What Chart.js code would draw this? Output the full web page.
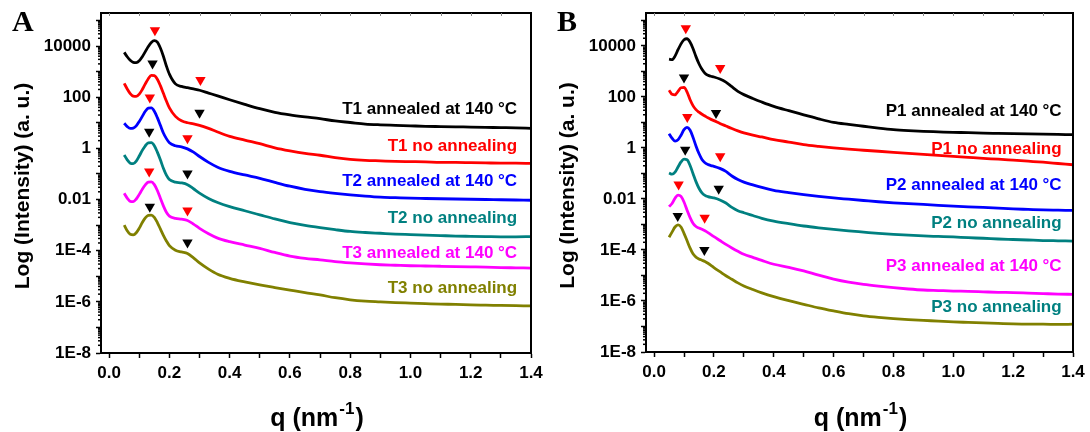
<!DOCTYPE html>
<html><head><meta charset="utf-8">
<script src="https://cdn.jsdelivr.net/npm/chart.js@4.4.0/dist/chart.umd.min.js"></script>
<style>
html,body{margin:0;padding:0;background:#fff;}
#wrap{position:relative;width:1090px;height:432px;}
canvas{position:absolute;top:0;}
</style></head>
<body><div id="wrap"><canvas id="cA" width="545" height="432" style="left:0"></canvas><canvas id="cB" width="545" height="432" style="left:545px"></canvas></div>
<script>
// q grid (nm^-1)
const q = [0.05,0.06,0.07,0.08,0.09,0.10,0.11,0.12,0.13,0.14,0.15,0.16,0.17,0.18,0.19,0.20,
  0.22,0.24,0.26,0.28,0.30,0.33,0.36,0.40,0.45,0.50,0.55,0.60,0.65,0.70,0.75,0.80,0.85,0.90,
  0.95,1.00,1.05,1.10,1.15,1.20,1.25,1.30,1.35,1.40];

// Panel A, log10(intensity)
const T1_annealed = [3.75,3.58,3.44,3.36,3.35,3.42,3.58,3.78,3.98,4.14,4.21,4.15,3.92,3.6,3.22,2.9,
  2.52,2.42,2.37,2.32,2.27,2.16,2.05,1.9,1.72,1.55,1.41,1.31,1.23,1.16,1.07,1.01,0.95,0.92,
  0.9,0.88,0.86,0.85,0.84,0.83,0.82,0.81,0.8,0.78];
const T1_none = [2.54,2.32,2.14,2.04,2.03,2.12,2.3,2.52,2.72,2.85,2.84,2.7,2.45,2.15,1.85,1.58,
  1.25,1.08,1.0,0.96,0.9,0.78,0.64,0.47,0.32,0.18,0.02,-0.1,-0.2,-0.27,-0.36,-0.43,-0.47,-0.49,
  -0.51,-0.52,-0.53,-0.55,-0.55,-0.56,-0.57,-0.58,-0.58,-0.59];
const T2_annealed = [0.98,0.85,0.78,0.79,0.88,1.05,1.25,1.45,1.57,1.58,1.45,1.2,0.9,0.6,0.38,0.22,
  0.1,0.06,-0.02,-0.15,-0.32,-0.55,-0.74,-0.9,-1.04,-1.17,-1.33,-1.48,-1.6,-1.69,-1.76,-1.82,-1.87,-1.91,
  -1.93,-1.95,-1.96,-1.97,-1.98,-1.99,-2.0,-2.01,-2.02,-2.03];
const T2_none = [-0.26,-0.45,-0.58,-0.6,-0.5,-0.3,-0.08,0.1,0.21,0.22,0.1,-0.15,-0.45,-0.78,-1.05,-1.22,
  -1.32,-1.35,-1.42,-1.58,-1.75,-1.96,-2.12,-2.28,-2.44,-2.6,-2.76,-2.9,-3.01,-3.1,-3.18,-3.25,-3.29,-3.32,
  -3.35,-3.37,-3.39,-3.41,-3.43,-3.44,-3.45,-3.46,-3.46,-3.45];
const T3_annealed = [-1.76,-1.95,-2.07,-2.08,-1.98,-1.8,-1.6,-1.43,-1.32,-1.31,-1.42,-1.65,-1.95,-2.25,-2.5,-2.65,
  -2.74,-2.77,-2.82,-2.96,-3.13,-3.34,-3.51,-3.65,-3.78,-3.91,-4.07,-4.21,-4.3,-4.36,-4.43,-4.48,-4.52,-4.55,
  -4.57,-4.59,-4.6,-4.61,-4.62,-4.63,-4.64,-4.66,-4.67,-4.68];
const T3_none = [-3.0,-3.22,-3.36,-3.38,-3.3,-3.12,-2.9,-2.72,-2.62,-2.61,-2.7,-2.9,-3.15,-3.4,-3.62,-3.8,
  -3.98,-4.05,-4.11,-4.28,-4.48,-4.72,-4.92,-5.08,-5.22,-5.34,-5.44,-5.54,-5.64,-5.73,-5.84,-5.92,-5.97,-6.0,
  -6.03,-6.05,-6.07,-6.09,-6.1,-6.12,-6.13,-6.14,-6.15,-6.16];

// Panel B, log10(intensity)
const P1_annealed = [3.48,3.46,3.6,3.85,4.08,4.24,4.28,4.15,3.9,3.58,3.3,3.08,2.93,2.85,2.81,2.78,
  2.7,2.58,2.4,2.22,2.09,1.94,1.8,1.63,1.46,1.3,1.14,1.0,0.92,0.85,0.78,0.72,0.68,0.65,
  0.63,0.61,0.6,0.58,0.57,0.56,0.55,0.54,0.53,0.52];
const P1_none = [2.26,2.1,2.08,2.22,2.36,2.37,2.2,1.9,1.66,1.5,1.4,1.32,1.25,1.18,1.12,1.07,
  0.96,0.86,0.76,0.67,0.59,0.5,0.43,0.33,0.23,0.13,0.06,0.0,-0.05,-0.09,-0.13,-0.17,-0.21,-0.25,
  -0.29,-0.33,-0.37,-0.41,-0.44,-0.48,-0.52,-0.56,-0.61,-0.66];
const P2_annealed = [0.56,0.38,0.27,0.32,0.5,0.72,0.81,0.7,0.42,0.08,-0.22,-0.45,-0.58,-0.65,-0.69,-0.72,
  -0.8,-0.92,-1.1,-1.24,-1.34,-1.45,-1.55,-1.66,-1.75,-1.83,-1.9,-1.96,-2.01,-2.06,-2.11,-2.15,-2.18,-2.21,
  -2.25,-2.28,-2.31,-2.33,-2.36,-2.39,-2.41,-2.43,-2.44,-2.45];
const P2_none = [-0.98,-1.03,-0.95,-0.75,-0.55,-0.44,-0.46,-0.68,-1.0,-1.32,-1.58,-1.76,-1.86,-1.91,-1.94,-1.96,
  -2.04,-2.16,-2.33,-2.46,-2.54,-2.65,-2.76,-2.87,-2.97,-3.06,-3.13,-3.19,-3.25,-3.3,-3.35,-3.39,-3.42,-3.45,
  -3.47,-3.49,-3.52,-3.54,-3.57,-3.59,-3.61,-3.63,-3.64,-3.65];
const P3_annealed = [-2.3,-2.18,-1.97,-1.85,-1.9,-2.12,-2.43,-2.72,-2.95,-3.08,-3.14,-3.19,-3.25,-3.32,-3.4,-3.48,
  -3.63,-3.78,-3.92,-4.05,-4.17,-4.29,-4.41,-4.56,-4.68,-4.82,-4.99,-5.14,-5.26,-5.35,-5.42,-5.48,-5.53,-5.57,
  -5.59,-5.61,-5.62,-5.64,-5.66,-5.67,-5.69,-5.71,-5.73,-5.74];
const P3_none = [-3.5,-3.3,-3.1,-3.02,-3.1,-3.35,-3.63,-3.92,-4.15,-4.28,-4.35,-4.4,-4.45,-4.52,-4.6,-4.69,
  -4.85,-5.01,-5.15,-5.29,-5.41,-5.55,-5.68,-5.83,-5.99,-6.13,-6.27,-6.39,-6.5,-6.58,-6.64,-6.69,-6.73,-6.76,
  -6.79,-6.82,-6.84,-6.86,-6.88,-6.9,-6.91,-6.91,-6.92,-6.91];

// Series names and colours
const namesA = ["T1 annealed at 140 °C","T1 no annealing","T2 annealed at 140 °C","T2 no annealing","T3 annealed at 140 °C","T3 no annealing"];
const namesB = ["P1 annealed at 140 °C","P1 no annealing","P2 annealed at 140 °C","P2 no annealing","P3 annealed at 140 °C","P3 no annealing"];
const lineColors = ["#000000","#ff0000","#0000ff","#008080","#ff00ff","#808000"];
const labelColorsA = ["#000000","#ff0000","#0000ff","#008080","#ff00ff","#808000"];
const labelColorsB = ["#000000","#ff0000","#0000ff","#008080","#ff00ff","#008080"];
// label anchor (q of right edge, log10 y of text centre)
const labelQA = 1.354, labelYA = [1.54,0.09,-1.28,-2.72,-4.09,-5.46];
const labelQB = 1.362, labelYB = [1.42,-0.07,-1.47,-2.95,-4.65,-6.25];

// Peak markers (q, log10 y)
const redMarkA = [[0.152,4.62],[0.303,2.67],[0.135,1.99],[0.26,0.39],[0.133,-0.91],[0.26,-2.43]];
const blackMarkA = [[0.144,3.32],[0.30,1.39],[0.133,0.65],[0.26,-0.98],[0.135,-2.28],[0.26,-3.68]];
const redMarkB = [[0.106,4.69],[0.221,3.13],[0.111,1.21],[0.221,-0.33],[0.082,-1.43],[0.169,-2.74]];
const blackMarkB = [[0.10,2.76],[0.207,1.37],[0.104,-0.07],[0.216,-1.6],[0.079,-2.67],[0.168,-4.0]];

// Axis ticks
const xTicks = [0,0.1,0.2,0.3,0.4,0.5,0.6,0.7,0.8,0.9,1.0,1.1,1.2,1.3,1.4];
const xTickLabels = ["0.0","0.2","0.4","0.6","0.8","1.0","1.2","1.4"];
const yTicks = [-8,-7,-6,-5,-4,-3,-2,-1,0,1,2,3,4,5];
const yTickLabels = {"-8":"1E-8","-6":"1E-6","-4":"1E-4","-2":"0.01","0":"1","2":"100","4":"10000"};

const FONT = "'Liberation Sans', Arial, Helvetica, sans-serif";

function makeChart(id, letter, series, names, labelColors, labelQ, labelY, redM, blackM, pad){
  const datasets = series.map((s,i)=>({
    data: q.map((x,j)=>({x:x,y:s[j]})),
    borderColor: lineColors[i], borderWidth: 2.8, pointRadius: 0,
    cubicInterpolationMode: 'monotone', fill:false
  }));
  datasets.push({data: redM.map(p=>({x:p[0],y:p[1]})), showLine:false, pointStyle:'triangle',
    pointRotation:180, pointRadius:6, pointBackgroundColor:'#ff0000', pointBorderColor:'#ff0000', pointBorderWidth:0});
  datasets.push({data: blackM.map(p=>({x:p[0],y:p[1]})), showLine:false, pointStyle:'triangle',
    pointRotation:180, pointRadius:6, pointBackgroundColor:'#000000', pointBorderColor:'#000000', pointBorderWidth:0});

  const deco = {
    id:'deco',
    afterDraw(chart){
      const ctx = chart.ctx, a = chart.chartArea, xs = chart.scales.x, ys = chart.scales.y;
      ctx.save();
      // frame top/right
      ctx.strokeStyle='#000'; ctx.lineWidth=2;
      ctx.beginPath(); ctx.moveTo(a.left-1,a.top); ctx.lineTo(a.right,a.top); ctx.lineTo(a.right,a.bottom+1); ctx.stroke();
      // top inward ticks
      ctx.lineWidth=1; ctx.strokeStyle='#888';
      xTicks.forEach(v=>{ const px=Math.round(xs.getPixelForValue(v))+0.5; if(px>a.left+2 && px<a.right-2){ctx.beginPath();ctx.moveTo(px,a.top);ctx.lineTo(px,a.top+3);ctx.stroke();}});
      // minor log ticks on y
      ctx.strokeStyle='#000'; ctx.lineWidth=1.5;
      yTicks.forEach(k=>{ for(let m=2;m<=9;m++){ const v=k+Math.log10(m); if(v>ys.max) continue;
        const py=ys.getPixelForValue(v); ctx.beginPath(); ctx.moveTo(a.left-3,py); ctx.lineTo(a.left,py); ctx.stroke(); }});
      // curve labels
      ctx.font = "bold 17px "+FONT; ctx.textAlign='right'; ctx.textBaseline='middle';
      names.forEach((n,i)=>{ ctx.fillStyle=labelColors[i];
        ctx.fillText(n, xs.getPixelForValue(labelQ), ys.getPixelForValue(labelY[i])); });
      // panel letter
      ctx.fillStyle='#000'; ctx.font="bold 30px 'Liberation Serif', 'Times New Roman', serif";
      ctx.textAlign='left'; ctx.textBaseline='alphabetic';
      ctx.fillText(letter, 12, 31);
      // x title with superscript
      const cx=(a.left+a.right)/2, by=426;
      const f1="bold 25px "+FONT, f2="bold 17px "+FONT;
      ctx.font=f1; const w1=ctx.measureText("q (nm").width, w3=ctx.measureText(")").width;
      ctx.font=f2; const w2=ctx.measureText("-1").width;
      let x0=cx-(w1+w2+w3)/2;
      ctx.font=f1; ctx.fillText("q (nm", x0, by);
      ctx.font=f2; ctx.fillText("-1", x0+w1+1, by-12);
      ctx.font=f1; ctx.fillText(")", x0+w1+w2+2, by);
      // y title
      ctx.save(); ctx.translate(23, (a.top+a.bottom)/2+3); ctx.rotate(-Math.PI/2);
      ctx.font="bold 21px "+FONT; ctx.textAlign='center'; ctx.textBaseline='middle';
      ctx.fillText("Log (Intensity) (a. u.)",0,0); ctx.restore();
      ctx.restore();
    }
  };

  return new Chart(document.getElementById(id), {
    type:'line',
    data:{datasets},
    options:{
      responsive:false, animation:false, events:[],
      layout:{padding:{left:0,right:pad.right,top:13,bottom:0}},
      plugins:{legend:{display:false}, tooltip:{enabled:false}},
      scales:{
        x:{type:'linear', min:-0.027, max:1.4,
          afterBuildTicks:s=>{s.ticks = xTicks.map(v=>({value:v}));},
          afterFit:s=>{s.height = 432-pad.bottom; s.paddingLeft=0; s.paddingRight=0;},
          ticks:{autoSkip:false, maxRotation:0, padding:5, color:'#000',
            font:{family:FONT,size:17,weight:'bold'},
            callback:(v)=>{const k=Math.round(v*10); return k%2===0 ? xTickLabels[k/2] : '';}},
          grid:{drawOnChartArea:false, drawTicks:true, tickLength:5, tickColor:'#000', tickWidth:1.5},
          border:{display:true, width:2, color:'#000'}
        },
        y:{type:'linear', min:-8, max:5.29,
          afterBuildTicks:s=>{s.ticks = yTicks.map(v=>({value:v}));},
          afterFit:s=>{s.width = pad.left; s.paddingTop=0; s.paddingBottom=0;},
          ticks:{autoSkip:false, padding:5, color:'#000',
            font:{family:FONT,size:17,weight:'bold'},
            callback:(v)=> yTickLabels[String(Math.round(v))] || ''},
          grid:{drawOnChartArea:false, drawTicks:true, tickLength:5, tickColor:'#000', tickWidth:1.5},
          border:{display:true, width:2, color:'#000'}
        }
      }
    },
    plugins:[deco]
  });
}

makeChart('cA','A',[T1_annealed,T1_none,T2_annealed,T2_none,T3_annealed,T3_none],namesA,labelColorsA,labelQA,labelYA,redMarkA,blackMarkA,{left:101,right:14,bottom:353});
makeChart('cB','B',[P1_annealed,P1_none,P2_annealed,P2_none,P3_annealed,P3_none],namesB,labelColorsB,labelQB,labelYB,redMarkB,blackMarkB,{left:101,right:17,bottom:352});
</script></body></html>
